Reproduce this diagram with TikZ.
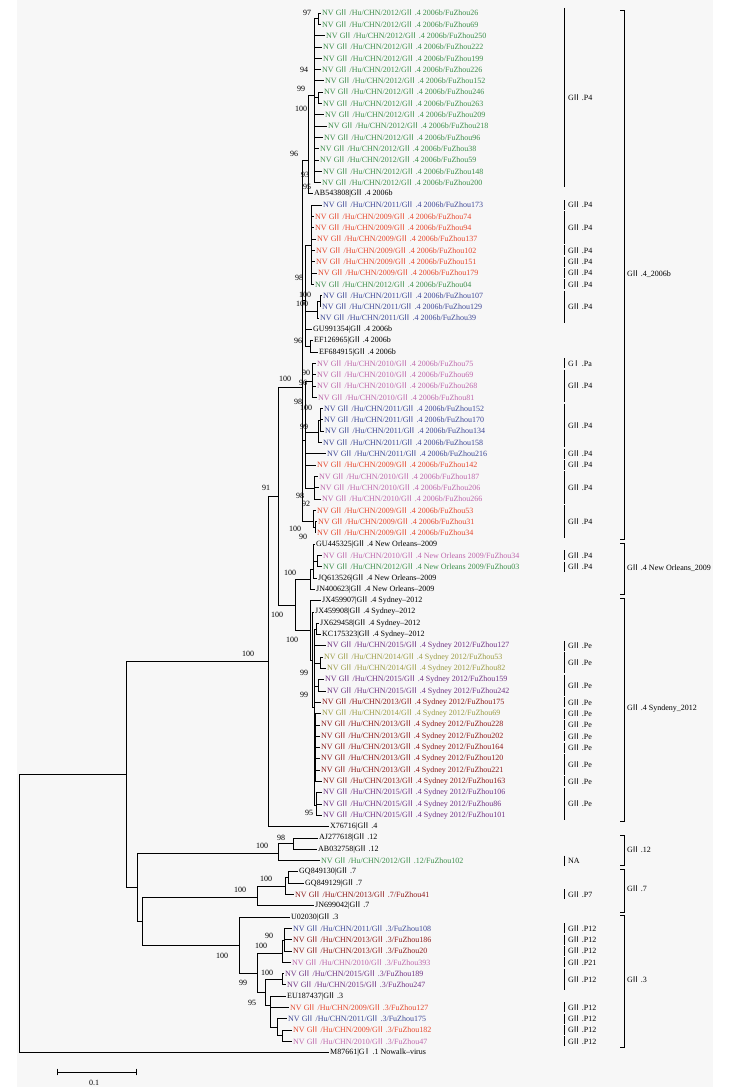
\documentclass[tikz,border=0pt]{standalone}
\usepackage{fontspec}
\setmainfont{Liberation Serif}
\newfontfamily\cjk{Noto Sans CJK SC}
\usetikzlibrary{arrows}
\definecolor{c09}{RGB}{230,72,46}
\definecolor{c10}{RGB}{190,104,172}
\definecolor{c11}{RGB}{62,72,150}
\definecolor{c12}{RGB}{62,142,76}
\definecolor{c13}{RGB}{140,28,28}
\definecolor{c14}{RGB}{156,156,70}
\definecolor{c15}{RGB}{112,52,132}
\newcommand{\GII}{G\kern-.2em{\cjk Ⅱ}\kern.2em}
\newcommand{\GI}{G\kern-.2em{\cjk Ⅰ}\kern.2em}
\newcommand{\nv}[3]{NV \GII/Hu/CHN/#1/\GII.#2/FuZhou#3}

\begin{document}
\begin{tikzpicture}[x=1pt,y=-1pt,
  lf/.style={anchor=west,inner xsep=1pt,inner ysep=0pt,font=\fontsize{8}{9}\selectfont},
  bs/.style={inner sep=0pt,font=\fontsize{8}{9}\selectfont},
  grp/.style={anchor=west,inner sep=0pt,font=\fontsize{8}{9}\selectfont},
  every edge/.style={draw,line width=.7pt,to path={|- (\tikztotarget)}}]
\useasboundingbox (0,0) rectangle (732,1091);
\fill[black!3] (17,0) rectangle (713,1087);

\node[lf,c12] (l1) at (321,13.0) {\nv{2012}{4 2006b}{26}};
\node[lf,c12] (l2) at (321,24.3) {\nv{2012}{4 2006b}{69}};
\node[lf,c12] (l3) at (325,35.6) {\nv{2012}{4 2006b}{250}};
\node[lf,c12] (l4) at (322,46.9) {\nv{2012}{4 2006b}{222}};
\node[lf,c12] (l5) at (322,58.2) {\nv{2012}{4 2006b}{199}};
\node[lf,c12] (l6) at (321,69.5) {\nv{2012}{4 2006b}{226}};
\node[lf,c12] (l7) at (324,80.8) {\nv{2012}{4 2006b}{152}};
\node[lf,c12] (l8) at (323,92.1) {\nv{2012}{4 2006b}{246}};
\node[lf,c12] (l9) at (322,103.4) {\nv{2012}{4 2006b}{263}};
\node[lf,c12] (l10) at (324,114.7) {\nv{2012}{4 2006b}{209}};
\node[lf,c12] (l11) at (327,126.0) {\nv{2012}{4 2006b}{218}};
\node[lf,c12] (l12) at (323,137.3) {\nv{2012}{4 2006b}{96}};
\node[lf,c12] (l13) at (319,148.6) {\nv{2012}{4 2006b}{38}};
\node[lf,c12] (l14) at (319,159.9) {\nv{2012}{4 2006b}{59}};
\node[lf,c12] (l15) at (322,171.2) {\nv{2012}{4 2006b}{148}};
\node[lf,c12] (l16) at (321,182.5) {\nv{2012}{4 2006b}{200}};
\node[lf] (l17) at (313,193.8) {AB543808|\GII.4 2006b};
\node[lf,c11] (l18) at (322,205.1) {\nv{2011}{4 2006b}{173}};
\node[lf,c09] (l19) at (314,216.4) {\nv{2009}{4 2006b}{74}};
\node[lf,c09] (l20) at (314,227.7) {\nv{2009}{4 2006b}{94}};
\node[lf,c09] (l21) at (316,239.0) {\nv{2009}{4 2006b}{137}};
\node[lf,c09] (l22) at (315,250.3) {\nv{2009}{4 2006b}{102}};
\node[lf,c09] (l23) at (315,261.6) {\nv{2009}{4 2006b}{151}};
\node[lf,c09] (l24) at (317,272.9) {\nv{2009}{4 2006b}{179}};
\node[lf,c12] (l25) at (314,284.2) {\nv{2012}{4 2006b}{04}};
\node[lf,c11] (l26) at (322,295.5) {\nv{2011}{4 2006b}{107}};
\node[lf,c11] (l27) at (321,306.8) {\nv{2011}{4 2006b}{129}};
\node[lf,c11] (l28) at (319,318.1) {\nv{2011}{4 2006b}{39}};
\node[lf] (l29) at (312,329.4) {GU991354|\GII.4 2006b};
\node[lf] (l30) at (313,340.7) {EF126965|\GII.4 2006b};
\node[lf] (l31) at (318,352.0) {EF684915|\GII.4 2006b};
\node[lf,c10] (l32) at (316,363.3) {\nv{2010}{4 2006b}{75}};
\node[lf,c10] (l33) at (316,374.6) {\nv{2010}{4 2006b}{69}};
\node[lf,c10] (l34) at (316,385.9) {\nv{2010}{4 2006b}{268}};
\node[lf,c10] (l35) at (317,397.2) {\nv{2010}{4 2006b}{81}};
\node[lf,c11] (l36) at (323,408.5) {\nv{2011}{4 2006b}{152}};
\node[lf,c11] (l37) at (323,419.8) {\nv{2011}{4 2006b}{170}};
\node[lf,c11] (l38) at (324,431.1) {\nv{2011}{4 2006b}{134}};
\node[lf,c11] (l39) at (322,442.4) {\nv{2011}{4 2006b}{158}};
\node[lf,c11] (l40) at (326,453.7) {\nv{2011}{4 2006b}{216}};
\node[lf,c09] (l41) at (316,465.0) {\nv{2009}{4 2006b}{142}};
\node[lf,c10] (l42) at (318,476.3) {\nv{2010}{4 2006b}{187}};
\node[lf,c10] (l43) at (319,487.6) {\nv{2010}{4 2006b}{206}};
\node[lf,c10] (l44) at (321,498.9) {\nv{2010}{4 2006b}{266}};
\node[lf,c09] (l45) at (316,510.2) {\nv{2009}{4 2006b}{53}};
\node[lf,c09] (l46) at (317,521.5) {\nv{2009}{4 2006b}{31}};
\node[lf,c09] (l47) at (316,532.8) {\nv{2009}{4 2006b}{34}};
\node[lf] (l48) at (315,544.1) {GU445325|\GII.4 New Orleans--2009};
\node[lf,c10] (l49) at (322,555.4) {\nv{2010}{4 New Orleans 2009}{34}};
\node[lf,c12] (l50) at (322,566.7) {\nv{2012}{4 New Orleans 2009}{03}};
\node[lf] (l51) at (317,578.0) {JQ613526|\GII.4 New Orleans--2009};
\node[lf] (l52) at (315,589.3) {JN400623|\GII.4 New Orleans--2009};
\node[lf] (l53) at (321,600.6) {JX459907|\GII.4 Sydney--2012};
\node[lf] (l54) at (314,611.9) {JX459908|\GII.4 Sydney--2012};
\node[lf] (l55) at (319,623.2) {JX629458|\GII.4 Sydney--2012};
\node[lf] (l56) at (321,634.5) {KC175323|\GII.4 Sydney--2012};
\node[lf,c15] (l57) at (326,645.8) {\nv{2015}{4 Sydney 2012}{127}};
\node[lf,c14] (l58) at (323,657.1) {\nv{2014}{4 Sydney 2012}{53}};
\node[lf,c14] (l59) at (326,668.4) {\nv{2014}{4 Sydney 2012}{82}};
\node[lf,c15] (l60) at (324,679.7) {\nv{2015}{4 Sydney 2012}{159}};
\node[lf,c15] (l61) at (326,691.0) {\nv{2015}{4 Sydney 2012}{242}};
\node[lf,c13] (l62) at (321,702.3) {\nv{2013}{4 Sydney 2012}{175}};
\node[lf,c14] (l63) at (321,713.6) {\nv{2014}{4 Sydney 2012}{69}};
\node[lf,c13] (l64) at (320,724.9) {\nv{2013}{4 Sydney 2012}{228}};
\node[lf,c13] (l65) at (320,736.2) {\nv{2013}{4 Sydney 2012}{202}};
\node[lf,c13] (l66) at (320,747.5) {\nv{2013}{4 Sydney 2012}{164}};
\node[lf,c13] (l67) at (320,758.8) {\nv{2013}{4 Sydney 2012}{120}};
\node[lf,c13] (l68) at (320,770.1) {\nv{2013}{4 Sydney 2012}{221}};
\node[lf,c13] (l69) at (322,781.4) {\nv{2013}{4 Sydney 2012}{163}};
\node[lf,c15] (l70) at (322,792.7) {\nv{2015}{4 Sydney 2012}{106}};
\node[lf,c15] (l71) at (322,804.0) {\nv{2015}{4 Sydney 2012}{86}};
\node[lf,c15] (l72) at (322,815.3) {\nv{2015}{4 Sydney 2012}{101}};
\node[lf] (l73) at (329,826.6) {X76716|\GII.4};
\node[lf] (l74) at (318,837.9) {AJ277618|\GII.12};
\node[lf] (l75) at (317,849.2) {AB032758|\GII.12};
\node[lf,c12] (l76) at (320,860.5) {\nv{2012}{12}{102}};
\node[lf] (l77) at (298,871.8) {GQ849130|\GII.7};
\node[lf] (l78) at (304,883.1) {GQ849129|\GII.7};
\node[lf,c13] (l79) at (294,894.4) {\nv{2013}{7}{41}};
\node[lf] (l80) at (314,905.7) {JN699042|\GII.7};
\node[lf] (l81) at (290,917.0) {U02030|\GII.3};
\node[lf,c11] (l82) at (292,928.3) {\nv{2011}{3}{108}};
\node[lf,c13] (l83) at (292,939.6) {\nv{2013}{3}{186}};
\node[lf,c13] (l84) at (292,950.9) {\nv{2013}{3}{20}};
\node[lf,c10] (l85) at (291,962.2) {\nv{2010}{3}{393}};
\node[lf,c15] (l86) at (284,973.5) {\nv{2015}{3}{189}};
\node[lf,c15] (l87) at (286,984.8) {\nv{2015}{3}{247}};
\node[lf] (l88) at (286,996.1) {EU187437|\GII.3};
\node[lf,c09] (l89) at (289,1007.4) {\nv{2009}{3}{127}};
\node[lf,c11] (l90) at (287,1018.7) {\nv{2011}{3}{175}};
\node[lf,c09] (l91) at (292,1030.0) {\nv{2009}{3}{182}};
\node[lf,c10] (l92) at (292,1041.3) {\nv{2010}{3}{47}};
\node[lf] (l93) at (329,1052.6) {M87661|\GI.1 Nowalk--virus};

\coordinate (R) at (19,913);
\coordinate (A) at (126,774);
\coordinate (B) at (268,661);
\coordinate (C) at (137,887);
\coordinate (B1) at (278,496);
\coordinate (C1) at (295,605);
\coordinate (N06) at (302,387);
\coordinate (G0) at (308,160);
\coordinate (G1) at (314,95);
\coordinate (G2) at (318,18.6);
\coordinate (G3) at (318,97.7);
\coordinate (M1) at (305,300);
\coordinate (R1) at (311,245);
\coordinate (B3) at (317,311);
\coordinate (B3a) at (320,301);
\coordinate (E1) at (310,346);
\coordinate (Pk) at (305,440);
\coordinate (P1) at (312,381);
\coordinate (B4a) at (318,432);
\coordinate (B4b) at (320,420);
\coordinate (P2) at (314,488);
\coordinate (R45) at (313,521);
\coordinate (R45a) at (315,527);
\coordinate (NO) at (310,579);
\coordinate (NOa) at (313,569);
\coordinate (NOb) at (317,561);
\coordinate (SY) at (310,630);
\coordinate (SYa) at (312,660);
\coordinate (SYb) at (314,707);
\coordinate (SYc) at (316,629);
\coordinate (SYd) at (320,663);
\coordinate (SYe) at (318,686);
\coordinate (SYf) at (315,760);
\coordinate (SYg) at (316,805);
\coordinate (N12) at (278,853);
\coordinate (N12a) at (293,843.5);
\coordinate (N73) at (142,921);
\coordinate (N7) at (257,897);
\coordinate (N7a) at (285,886);
\coordinate (N7b) at (288,877.5);
\coordinate (N3) at (239,945);
\coordinate (N3a) at (257,973);
\coordinate (N3b) at (282,953);
\coordinate (N3b1) at (284,940);
\coordinate (N3c) at (265,992);
\coordinate (N3c1) at (282,979);
\coordinate (N3c2) at (270,1005);
\coordinate (N3c4) at (277,1027);
\coordinate (N3c5) at (282,1035.6);

\path (R) edge (A) edge (l93)
  (A) edge (B) edge (C)
  (B) edge (B1) edge (l73)
  (B1) edge (N06) edge (C1)
  (N06) edge (G0) edge (M1) edge (Pk) edge (R45)
  (G0) edge (G1) edge (l17)
  (G1) edge (G2) edge (l3) edge (l4) edge (l5) edge (l6) edge (l7) edge (G3)
       edge (l10) edge (l11) edge (l12) edge (l13) edge (l14) edge (l15) edge (l16)
  (G2) edge (l1) edge (l2)
  (G3) edge (l8) edge (l9)
  (M1) edge (R1) edge (B3) edge (l29) edge (E1)
  (R1) edge (l18) edge (l19) edge (l20) edge (l21) edge (l22) edge (l23) edge (l24) edge (l25)
  (B3) edge (B3a) edge (l28)
  (B3a) edge (l26) edge (l27)
  (E1) edge (l30) edge (l31)
  (Pk) edge (P1) edge (B4a) edge (l40) edge (l41) edge (P2)
  (P1) edge (l32) edge (l33) edge (l34) edge (l35)
  (B4a) edge (B4b) edge (l39)
  (B4b) edge (l36) edge (l37) edge (l38)
  (P2) edge (l42) edge (l43) edge (l44)
  (R45) edge (l45) edge (R45a)
  (R45a) edge (l46) edge (l47)
  (C1) edge (NO) edge (SY)
  (NO) edge (NOa) edge (l52)
  (NOa) edge (l48) edge (NOb) edge (l51)
  (NOb) edge (l49) edge (l50)
  (SY) edge (l53) edge (SYa)
  (SYa) edge (l54) edge (SYb)
  (SYb) edge (SYc) edge (l57) edge (SYd) edge (SYe) edge (l62) edge (SYf) edge (SYg)
  (SYc) edge (l55) edge (l56)
  (SYd) edge (l58) edge (l59)
  (SYe) edge (l60) edge (l61)
  (SYf) edge (l63) edge (l64) edge (l65) edge (l66) edge (l67) edge (l68) edge (l69)
  (SYg) edge (l70) edge (l71) edge (l72)
  (C) edge (N12) edge (N73)
  (N12) edge (N12a) edge (l76)
  (N12a) edge (l74) edge (l75)
  (N73) edge (N7) edge (N3)
  (N7) edge (N7a) edge (l80)
  (N7a) edge (N7b) edge (l79)
  (N7b) edge (l77) edge (l78)
  (N3) edge (l81) edge (N3a)
  (N3a) edge (N3b) edge (N3c)
  (N3b) edge (N3b1) edge (l85)
  (N3b1) edge (l82) edge (l83) edge (l84)
  (N3c) edge (N3c1) edge (N3c2)
  (N3c1) edge (l86) edge (l87)
  (N3c2) edge (l88) edge (l89) edge (N3c4)
  (N3c4) edge (l90) edge (N3c5)
  (N3c5) edge (l91) edge (l92);

\foreach \x/\y/\v [count=\k] in {307/13/97, 304/70/94, 301/89/99, 301/109/100,
  294/154/96, 305/175/93, 307/187/95, 299/278/98, 305/295/100, 302/304/100,
  298/341/96, 306/373/90, 303/383/96, 285/379/100, 298/402/98, 306/408/100,
  304/427/99, 266/488/91, 300/496/98, 306/504/92, 295/529/100, 303/537/90,
  290/573/100, 277/615/100, 292/640/100, 248/654/100, 304/673/99, 304/695/99,
  309/813/95, 281/838/98, 262/846/100, 266/879/100, 240/890/100, 269/936/90,
  261/946/100, 222/956/100, 267/973/100, 243/983/99, 252/1003/95}
  \node[bs] (bs\k) at (\x,\y) {\v};

\foreach \a/\b/\t [count=\k] in {1/16/{\GII.P4}, 18/18/{\GII.P4}, 19/21/{\GII.P4},
  22/22/{\GII.P4}, 23/23/{\GII.P4}, 24/24/{\GII.P4}, 25/25/{\GII.P4}, 26/28/{\GII.P4},
  32/32/{\GI.Pa}, 33/35/{\GII.P4}, 36/39/{\GII.P4}, 40/40/{\GII.P4}, 41/41/{\GII.P4},
  42/44/{\GII.P4}, 45/47/{\GII.P4}, 49/49/{\GII.P4}, 50/50/{\GII.P4},
  57/57/{\GII.Pe}, 58/59/{\GII.Pe}, 60/61/{\GII.Pe}, 62/62/{\GII.Pe}, 63/63/{\GII.Pe},
  64/64/{\GII.Pe}, 65/65/{\GII.Pe}, 66/66/{\GII.Pe}, 67/68/{\GII.Pe}, 69/69/{\GII.Pe},
  70/72/{\GII.Pe}, 76/76/NA, 79/79/{\GII.P7}, 82/82/{\GII.P12}, 83/83/{\GII.P12},
  84/84/{\GII.P12}, 85/85/{\GII.P21}, 86/87/{\GII.P12}, 89/89/{\GII.P12},
  90/90/{\GII.P12}, 91/91/{\GII.P12}, 92/92/{\GII.P12}}
{
  \draw[line width=.7pt] (564,{13+11.3*(\a-1)-5}) -- (564,{13+11.3*(\b-1)+5});
  \node[grp] (p\k) at (568,{13+11.3*((\a+\b)/2-1)}) {\t};
}

\foreach \a/\b/\m/\t [count=\k] in {10/539/274/{\GII.4\_2006b},
  543/594/568/{\GII.4 New Orleans\_2009}, 598/821/708/{\GII.4 Syndeny\_2012},
  835/865/850/{\GII.12}, 869/912/889/{\GII.7}, 915/1047/980/{\GII.3}}
{
  \draw[line width=.8pt] (620,\a) -- (624,\a) -- (624,\b) -- (620,\b);
  \node[grp] (g\k) at (627,\m) {\t};
}

\draw[|-|,line width=.7pt] (57,1072) -- (137,1072);
\node[bs] (sc) at (94,1083) {0.1};
\end{tikzpicture}
\end{document}
